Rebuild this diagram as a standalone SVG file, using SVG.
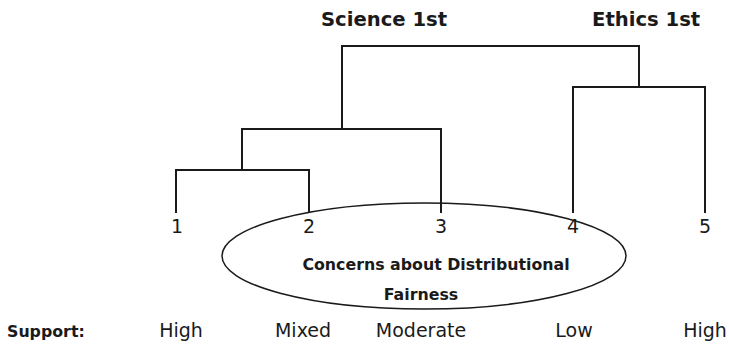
<svg xmlns="http://www.w3.org/2000/svg" width="729" height="347" viewBox="0 0 729 347">
<style>
.bg{fill:#ffffff}
.ln{fill:none;stroke:#1a1a1a;stroke-width:2;stroke-linecap:square}
.el{fill:none;stroke:#1a1a1a;stroke-width:1.5}
.hd{font-family:"DejaVu Sans",Verdana,sans-serif;font-weight:bold;font-size:19.6px;fill:#1a1a1a}
.bd{font-family:"DejaVu Sans",Verdana,sans-serif;font-weight:bold;font-size:15.8px;fill:#1a1a1a}
.rg{font-family:"DejaVu Sans",Verdana,sans-serif;font-size:19px;fill:#1a1a1a;text-anchor:middle}
</style>
<rect class="bg" x="0" y="0" width="729" height="347"/>
<g id="headings">
<text class="hd" x="321" y="26">Science 1st</text>
<text class="hd" x="592" y="26">Ethics 1st</text>
</g>
<g id="connectors">
<path class="ln" d="M342,129 V46 H639 V87"/>
<path class="ln" d="M242,170 V129 H441 V212"/>
<path class="ln" d="M176,212 V170 H309 V212"/>
<path class="ln" d="M573,212 V87 H705 V212"/>
</g>
<g id="leaf1"><text class="rg" x="177" y="233">1</text></g>
<g id="leaf2"><text class="rg" x="309" y="233">2</text></g>
<g id="leaf3"><text class="rg" x="441" y="233">3</text></g>
<g id="leaf4"><text class="rg" x="573" y="233">4</text></g>
<g id="leaf5"><text class="rg" x="705" y="233">5</text></g>
<g id="fairness">
<ellipse class="el" cx="424" cy="256" rx="202" ry="53"/>
<text class="bd" x="436" y="270" text-anchor="middle">Concerns about Distributional</text>
<text class="bd" x="421" y="300" text-anchor="middle">Fairness</text>
</g>
<g id="support">
<text class="bd" x="7" y="337">Support:</text>
<text class="rg" x="181" y="337">High</text>
<text class="rg" x="303" y="337">Mixed</text>
<text class="rg" x="421" y="337">Moderate</text>
<text class="rg" x="574" y="337">Low</text>
<text class="rg" x="705" y="337">High</text>
</g>
</svg>
